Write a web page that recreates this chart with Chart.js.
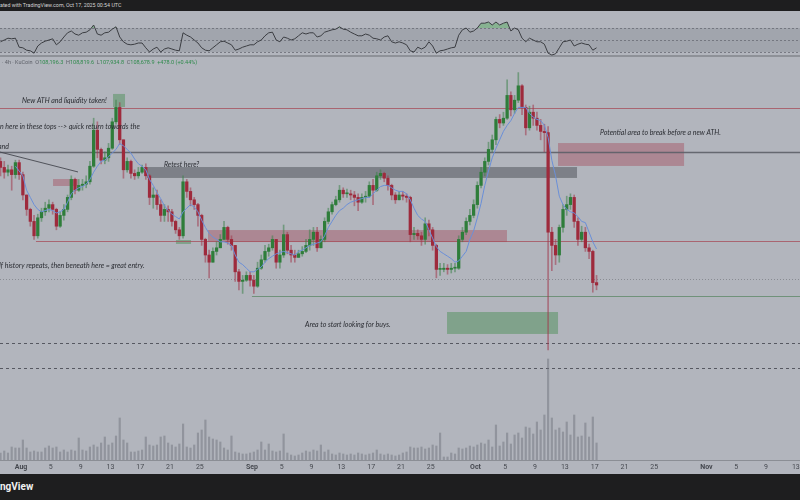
<!DOCTYPE html>
<html>
<head>
<meta charset="utf-8">
<script src="https://cdn.jsdelivr.net/npm/chart.js@4.4.1/dist/chart.umd.min.js"></script>
<style>
  body{margin:0;background:#b2b5bd}
  #wrap{position:relative;width:800px;height:500px;overflow:hidden;background:#b2b5bd;font-family:Roboto,"Open Sans",sans-serif}
  #top{position:absolute;left:0;top:0;width:800px;height:11px;background:#1e1e1f;color:#d4d4d4;font-size:5.3px;line-height:11px;white-space:nowrap}
  #sep{position:absolute;left:0;top:55px;width:800px;height:2px;background:#8e9198}
  #legend{position:absolute;left:2px;top:59px;font-size:5.5px;color:#5d6068;white-space:nowrap}
  #legend b{font-weight:normal;color:#2f8a4c}
  #bottom{position:absolute;left:0;top:474px;width:800px;height:26px;background:#1e1e1f}
  #bottom span{position:absolute;left:0;top:7px;color:#f0f0f0;font:bold 10px Roboto,sans-serif}
  canvas{position:absolute;left:0;top:0}
</style>
</head>
<body>
<div id="wrap">
  <div id="top">ated with TradingView.com, Oct 17, 2025 00:54 UTC</div>
  <div id="sep"></div>
  <canvas id="chart" width="800" height="500"></canvas>
  <div id="legend">· 4h · KuCoin &nbsp;O<b>108,196.3</b> &nbsp;H<b>108,819.6</b> &nbsp;L<b>107,934.8</b> &nbsp;C<b>108,678.9</b> &nbsp;<b>+478.0 (+0.44%)</b></div>
  <div id="bottom"><span>ngView</span></div>
</div>
<script>
// BTC 12h candles, price in thousands USD
const firstOpenK = 119.0;
const closeK = [
  118.5,118.1,118.3,117.9,118.9,117.9,116.2,115.0,114.0,112.8,
  114.3,114.8,115.1,115.4,115.0,113.6,114.5,115.0,116.0,117.5,
  116.6,117.0,117.1,117.3,118.6,121.6,120.0,119.1,119.3,120.1,
  122.3,123.5,120.8,118.3,119.0,118.0,117.8,118.1,118.5,117.8,
  116.0,116.2,115.4,114.5,115.0,114.8,114.0,113.3,112.8,117.3,
  116.5,115.8,115.4,114.5,112.5,111.2,110.6,111.5,111.8,112.5,
  113.5,112.5,112.0,109.8,109.0,109.1,109.5,109.1,108.6,110.1,
  110.8,111.5,111.8,112.5,110.6,111.2,112.9,111.6,111.2,111.0,
  111.3,111.5,112.0,112.5,113.1,111.8,112.5,114.0,114.8,115.4,
  115.8,116.6,116.3,116.3,116.2,116.0,115.6,116.0,116.1,117.0,
  116.6,117.8,118.0,117.6,117.0,116.2,115.8,116.2,116.1,116.0,
  112.9,113.0,112.8,112.5,113.8,113.3,112.0,110.0,110.0,110.1,
  110.0,110.1,110.1,112.5,113.1,114.0,114.5,115.4,117.0,118.1,
  119.0,120.0,120.8,122.5,122.2,122.6,124.5,123.3,124.1,125.3,
  123.5,121.8,123.1,122.6,122.0,121.5,121.4,113.1,112.0,111.2,
  113.5,115.0,115.4,116.0,114.0,112.5,113.1,111.8,111.5,108.9,
  108.7
];
const highK = [
  119.3,119.0,118.7,118.6,119.1,119.1,118.1,116.2,115.1,114.5,
  114.6,115.1,115.6,115.8,115.6,115.1,114.8,115.4,116.2,117.8,
  117.6,117.5,117.5,117.8,119.0,122.6,122.3,120.1,119.8,120.5,
  122.6,124.1,123.9,120.8,119.3,119.1,118.3,118.5,118.7,118.8,
  117.9,116.8,116.6,115.8,115.4,115.3,115.0,114.1,113.5,117.8,
  117.5,116.8,116.0,115.5,114.6,112.6,111.6,111.8,112.3,112.9,
  114.0,113.6,112.8,112.0,110.0,109.5,109.8,109.8,109.5,110.6,
  111.2,112.0,112.1,112.8,112.5,111.6,113.7,113.1,112.0,111.6,
  111.6,111.9,112.5,113.3,113.5,113.5,112.8,114.3,115.1,115.6,
  116.1,117.0,116.8,116.7,116.6,116.5,116.3,116.3,116.5,117.3,
  117.5,118.1,118.3,118.1,117.8,117.1,116.4,116.5,116.5,116.3,
  116.1,113.5,113.3,113.1,114.3,114.1,113.5,112.1,110.5,110.5,
  110.4,110.5,110.5,112.8,113.5,114.3,115.0,115.8,117.3,118.5,
  119.3,120.6,121.2,122.7,122.9,123.1,125.8,124.8,124.5,126.4,
  125.4,123.7,123.6,123.7,123.1,122.5,122.1,121.9,113.5,112.5,
  113.7,115.4,116.1,116.3,116.2,114.3,113.6,113.5,112.1,111.6,
  109.5
];
const lowK = [
  117.8,117.6,117.8,116.6,117.6,117.5,115.8,114.5,113.6,112.5,
  112.6,114.0,114.5,114.8,114.6,113.3,113.5,114.1,114.8,115.8,
  116.3,116.5,116.6,116.8,117.1,118.5,119.3,118.8,118.8,119.0,
  120.0,122.1,120.4,117.6,118.1,117.6,117.5,117.6,118.0,117.5,
  115.4,115.1,115.0,114.0,114.0,114.0,113.6,113.0,112.5,112.6,
  116.0,115.3,115.0,113.6,112.0,110.6,109.3,110.6,111.2,111.8,
  112.5,112.1,111.6,109.0,108.3,108.0,109.0,108.6,108.0,108.5,
  110.0,110.6,111.1,111.6,110.1,110.1,111.0,111.3,110.6,110.6,
  111.0,111.1,111.4,111.6,112.0,111.5,111.8,112.3,113.8,114.6,
  115.3,115.6,116.0,116.0,115.8,115.3,114.9,115.5,115.6,116.0,
  115.4,116.5,117.5,117.3,116.6,115.8,115.5,115.8,115.8,115.6,
  112.3,112.5,112.5,112.0,112.1,112.8,111.6,109.3,109.5,109.8,
  109.6,109.7,109.8,110.0,112.3,112.9,113.7,114.3,115.1,116.8,
  117.8,118.7,119.8,120.4,121.8,122.0,122.5,122.8,123.0,123.9,
  122.9,121.2,121.6,122.0,121.6,120.8,119.8,103.3,109.9,110.4,
  110.6,113.1,114.5,115.0,113.5,112.0,112.3,111.5,110.9,108.1,
  108.3
];
// blue moving average as drawn on the chart
const maK = [
  null,null,null,null,
  118.6,118.2,117.8,116.6,116.0,115.4,115.0,114.8,114.9,115.0,
  114.9,114.7,114.8,115.0,115.6,116.3,116.6,116.8,116.9,117.1,
  117.5,118.1,118.6,119.0,119.1,119.4,119.7,120.0,120.5,120.3,
  120.0,119.7,119.2,118.8,118.6,118.3,117.5,117.0,116.4,115.9,
  115.3,114.9,114.6,114.4,114.2,114.8,115.1,115.4,115.2,114.8,
  114.1,113.5,113.0,112.7,112.5,112.3,112.3,112.2,112.0,111.2,
  110.6,110.4,110.1,109.8,109.8,110.0,110.2,110.6,110.9,111.1,
  111.3,111.4,111.5,111.4,111.3,111.2,111.5,111.6,111.8,112.0,
  112.1,112.2,112.3,112.8,113.5,114.0,114.5,114.9,115.1,115.4,
  115.6,115.7,115.8,115.9,116.0,116.0,116.3,116.6,116.9,117.0,
  117.0,116.8,116.6,116.5,116.5,116.3,115.8,115.1,114.5,114.2,
  114.0,113.3,112.6,111.9,111.5,111.3,111.1,110.9,110.6,110.7,
  111.1,111.5,112.5,113.2,114.3,115.5,117.0,118.2,119.3,120.1,
  120.8,121.5,122.0,122.4,123.0,123.5,123.5,123.5,123.0,122.7,
  122.5,122.4,122.0,121.0,119.1,117.8,116.1,115.4,115.0,114.8,
  114.7,114.4,114.0,113.9,113.1,112.3,111.7
];
const rsiVals = [
  47,50,53,52,53,38,37,33,32,28,
  40,45,48,50,52,42,47,55,62,65,
  60,58,62,63,67,75,60,58,62,63,
  68,72,55,47,43,42,43,45,45,37,
  30,35,38,30,35,37,35,33,32,62,
  58,55,50,45,37,33,32,37,42,47,
  48,45,42,33,35,38,40,42,42,47,
  50,57,62,63,50,47,55,53,50,52,
  57,62,60,62,62,55,57,63,65,67,
  68,72,68,67,63,60,57,57,60,58,
  53,52,50,55,57,47,45,47,45,42,
  32,30,38,35,38,47,40,28,32,33,
  35,37,38,58,67,70,63,65,70,78,
  78,80,75,80,75,78,80,65,70,67,
  53,47,53,50,47,47,43,28,25,27,
  37,47,48,50,40,43,45,43,42,33,
  37
];
// volume, thousand BTC
const volK = [
  0.7,0.9,0.7,1.3,1.2,1.2,2.0,1.2,0.8,0.9,
  0.8,0.8,1.2,1.4,1.2,1.3,0.8,1.0,0.8,1.0,
  0.9,2.2,1.0,0.9,1.3,1.5,1.3,1.7,2.3,1.5,
  1.7,2.4,4.2,2.0,1.7,0.8,0.8,0.9,1.0,2.3,
  1.5,1.4,1.5,2.3,2.4,1.7,1.5,1.3,1.6,3.6,
  1.3,1.2,1.5,2.7,3.0,4.0,2.3,2.1,2.0,1.8,
  1.2,1.0,2.4,0.8,0.7,0.6,0.6,0.7,0.8,1.0,
  1.8,1.0,1.6,0.9,0.8,0.9,2.6,0.7,0.5,0.4,
  0.5,0.7,0.9,0.8,1.0,0.9,1.5,0.8,1.0,0.6,
  0.5,0.7,0.6,0.5,0.6,0.5,0.7,0.6,0.5,0.6,
  0.7,1.0,0.6,0.5,0.6,0.5,0.4,0.5,0.7,0.8,
  1.3,1.2,1.2,1.3,1.1,1.2,1.5,1.4,2.7,0.3,
  0.3,0.7,0.6,1.2,1.1,1.2,1.4,1.3,1.5,1.7,
  1.6,2.0,1.3,3.5,1.4,1.8,2.7,1.6,2.5,2.7,
  2.2,3.3,3.2,2.6,3.8,3.0,4.5,10.1,4.2,3.0,
  3.2,2.8,3.8,2.5,4.5,2.3,2.4,3.7,2.3,4.3,
  1.7
];
// time axis: days since Aug 1 2025, 12h bars (center of bar)
const candleStartDay = -2.75, candleStepDay = 0.5;
const candleDays = closeK.map((_, i) => candleStartDay + i * candleStepDay);
const tickDays = [0,4,8,12,16,20,24,31,35,39,43,47,51,55,61,65,69,73,77,81,85,92,96,100,104];
const tickLabels = ['Aug','5','9','13','17','21','25','Sep','5','9','13','17','21','25','Oct','5','9','13','17','21','25','Nov','5','9','13'];
const dayMin = -2.82, dayMax = 104.56;
const priceMin = 94.117, priceMax = 131.45;
const rsiMin = -650, rsiMax = 96.67;
const rsiLevels = [70, 50, 30];
const volMax = 44.8;

// drawings on the chart
const hLines = [
  {price:123.45, from:dayMin, to:dayMax, color:'rgba(165,75,88,0.75)', width:1, dash:[]},
  {price:119.78, from:dayMin, to:dayMax, color:'rgba(92,95,103,0.9)', width:1.5, dash:[]},
  {price:112.37, from:2.01, to:dayMax, color:'rgba(165,75,88,0.75)', width:1, dash:[]},
  {price:109.2, from:dayMin, to:dayMax, color:'rgba(120,122,130,0.7)', width:1, dash:[1,2]},
  {price:107.78, from:31.0, to:dayMax, color:'rgba(100,140,110,0.85)', width:1, dash:[]},
  {price:103.87, from:dayMin, to:dayMax, color:'rgba(75,78,86,0.9)', width:1, dash:[3,3]},
  {price:101.78, from:dayMin, to:dayMax, color:'rgba(75,78,86,0.9)', width:1, dash:[3,3]}
];
const trendLines = [
  {from:dayMin, p0:119.78, to:7.65, p1:118.12, color:'rgba(70,72,80,0.9)', width:1}
];
const boxes = [
  {from:12.35, to:13.96, top:124.62, bottom:123.53, color:'rgba(95,150,105,0.6)'},
  {from:4.30, to:7.65, top:117.53, bottom:116.95, color:'rgba(165,80,95,0.45)'},
  {from:16.91, to:74.63, top:118.53, bottom:117.62, color:'rgba(90,93,100,0.6)'},
  {from:72.08, to:89.0, top:120.53, bottom:118.62, color:'rgba(165,80,95,0.45)'},
  {from:25.1, to:65.23, top:113.28, bottom:112.28, color:'rgba(165,80,95,0.45)'},
  {from:20.8, to:22.82, top:112.45, bottom:112.12, color:'rgba(95,150,105,0.6)'},
  {from:57.18, to:72.08, top:106.45, bottom:104.62, color:'rgba(95,150,105,0.6)'}
];
const notes = [
  {day:0.13, price:124.03, text:'New ATH and liquidity taken!'},
  {day:-2.82, price:121.87, text:'n here in these tops --> quick return towards the'},
  {day:-3.09, price:120.2, text:'and'},
  {day:19.19, price:118.7, text:'Retest here?'},
  {day:-2.95, price:110.28, text:'If history repeats, then beneath here = great entry.'},
  {day:77.72, price:121.37, text:'Potential area to break before a new ATH.'},
  {day:38.12, price:105.37, text:'Area to start looking for buys.'}
];

const openK = closeK.map((c, i) => i === 0 ? firstOpenK : closeK[i - 1]);
const up = i => closeK[i] >= openK[i];

const drawings = {
  id: 'drawings',
  beforeDatasetsDraw(chart){
    const {ctx, chartArea: a, scales: {x, y, yRsi}} = chart;
    ctx.save();
    // rsi band + levels
    const bt = yRsi.getPixelForValue(rsiLevels[0]), bb = yRsi.getPixelForValue(rsiLevels[2]);
    ctx.fillStyle = 'rgba(120,124,134,0.28)';
    ctx.fillRect(a.left, bt, a.right - a.left, bb - bt);
    ctx.strokeStyle = 'rgba(105,108,116,0.8)'; ctx.lineWidth = 1; ctx.setLineDash([2,2]);
    rsiLevels.forEach(v => {
      const py = Math.round(yRsi.getPixelForValue(v)) + 0.5;
      ctx.beginPath(); ctx.moveTo(a.left, py); ctx.lineTo(a.right, py); ctx.stroke();
    });
    ctx.setLineDash([]);
    boxes.forEach(b => {
      const x0 = x.getPixelForValue(b.from), x1 = x.getPixelForValue(b.to);
      const y0 = y.getPixelForValue(b.top), y1 = y.getPixelForValue(b.bottom);
      ctx.fillStyle = b.color; ctx.fillRect(x0, y0, x1 - x0, y1 - y0);
    });
    hLines.forEach(l => {
      const py = Math.round(y.getPixelForValue(l.price)) + 0.5;
      ctx.strokeStyle = l.color; ctx.lineWidth = l.width; ctx.setLineDash(l.dash);
      ctx.beginPath(); ctx.moveTo(x.getPixelForValue(l.from), py); ctx.lineTo(x.getPixelForValue(l.to), py); ctx.stroke();
    });
    ctx.setLineDash([]);
    trendLines.forEach(l => {
      ctx.strokeStyle = l.color; ctx.lineWidth = l.width;
      ctx.beginPath();
      ctx.moveTo(x.getPixelForValue(l.from), y.getPixelForValue(l.p0));
      ctx.lineTo(x.getPixelForValue(l.to), y.getPixelForValue(l.p1));
      ctx.stroke();
    });
    ctx.restore();
  },
  afterDatasetsDraw(chart){
    const {ctx, chartArea: a, scales: {x, y}} = chart;
    ctx.save();
    ctx.font = 'italic 7px Lato, "Open Sans", sans-serif';
    ctx.fillStyle = '#2a2c32'; ctx.textBaseline = 'middle'; ctx.textAlign = 'left';
    notes.forEach(n => ctx.fillText(n.text, x.getPixelForValue(n.day), y.getPixelForValue(n.price)));
    // time axis
    ctx.strokeStyle = '#8b8e95'; ctx.lineWidth = 1;
    ctx.beginPath(); ctx.moveTo(0, a.bottom + 0.5); ctx.lineTo(chart.width, a.bottom + 0.5); ctx.stroke();
    ctx.fillStyle = '#45484f'; ctx.textAlign = 'center';
    tickDays.forEach((d, i) => {
      ctx.font = isNaN(+tickLabels[i]) ? 'bold 7px Roboto, sans-serif' : '7px Roboto, sans-serif';
      ctx.fillText(tickLabels[i], x.getPixelForValue(d), a.bottom + 7);
    });
    ctx.restore();
  }
};

new Chart(document.getElementById('chart'), {
  type: 'bar',
  data: {
    datasets: [
      {
        type: 'line', label: 'MA', yAxisID: 'y', order: 1,
        data: maK.map((v, i) => ({x: candleDays[i], y: v})),
        borderColor: '#6a8fd8', borderWidth: 1, pointRadius: 0
      },
      {
        label: 'body', yAxisID: 'y', order: 2, grouped: false,
        data: closeK.map((c, i) => ({x: candleDays[i], y: [openK[i], c]})),
        backgroundColor: closeK.map((c, i) => up(i) ? '#2e7d3a' : '#9e2a3c'),
        barThickness: 2.6, minBarLength: 1
      },
      {
        label: 'wick', yAxisID: 'y', order: 3, grouped: false,
        data: highK.map((h, i) => ({x: candleDays[i], y: [lowK[i], h]})),
        backgroundColor: closeK.map((c, i) => up(i) ? 'rgba(60,130,75,0.55)' : 'rgba(160,55,75,0.55)'),
        barThickness: 1
      },
      {
        type: 'line', label: 'RSI', yAxisID: 'yRsi', order: 4,
        data: rsiVals.map((v, i) => ({x: candleDays[i], y: v})),
        borderColor: '#3b3d42', borderWidth: 1, pointRadius: 0,
        fill: {target: {value: 70}, above: 'rgba(100,175,110,0.55)', below: 'rgba(0,0,0,0)'}
      },
      {
        label: 'Volume', yAxisID: 'yVol', order: 5, grouped: false,
        data: volK.map((v, i) => ({x: candleDays[i], y: v})),
        backgroundColor: 'rgba(112,116,125,0.5)', barThickness: 1.5
      }
    ]
  },
  options: {
    responsive: false, animation: false, devicePixelRatio: 1,
    layout: {padding: {top: 12, bottom: 40, left: 0, right: 0}},
    plugins: {legend: {display: false}, tooltip: {enabled: false}},
    scales: {
      x: {type: 'linear', axis: 'x', min: dayMin, max: dayMax, display: false, offset: false, bounds: 'data'},
      y: {type: 'linear', axis: 'y', min: priceMin, max: priceMax, display: false, beginAtZero: false, bounds: 'data'},
      yRsi: {type: 'linear', axis: 'y', min: rsiMin, max: rsiMax, display: false, bounds: 'data'},
      yVol: {type: 'linear', axis: 'y', min: 0, max: volMax, display: false, bounds: 'data'}
    }
  },
  plugins: [drawings]
});
</script>
</body>
</html>
